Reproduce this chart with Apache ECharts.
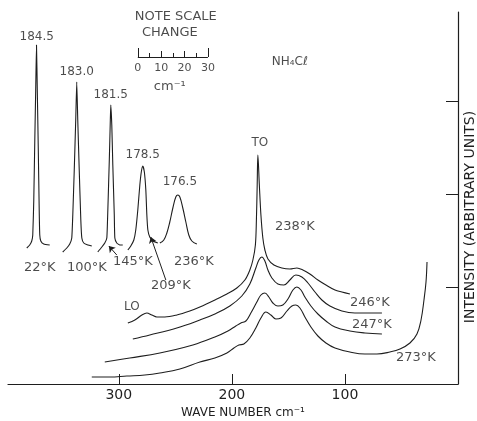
<!DOCTYPE html>
<html>
<head>
<meta charset="utf-8">
<script src="https://cdn.jsdelivr.net/npm/echarts@6/dist/echarts.min.js"></script>
<style>html,body{margin:0;padding:0;background:#fff}#c{width:477px;height:421px}</style>
</head>
<body>
<div id="c"></div>
<script>
// ---- Data: [wave number (cm-1), intensity (arbitrary units)] ----
// Low-temperature inset peaks (drawn on an expanded, offset scale in the original)
const peak22K = [[381.4,136],[378.8,139],[377.0,143],[376.1,149],[375.2,184],[374.3,244],[373.5,294],[372.8,339],[372.1,294],[371.2,234],[370.4,174],[369.9,149],[369.0,143],[366.4,140],[361.1,139]];
const peak100K = [[349.6,132],[346.0,136],[343.4,140],[341.6,146],[340.7,169],[339.4,214],[338.1,264],[337.2,302],[336.3,264],[335.0,214],[333.6,164],[332.7,146],[331.0,141],[327.4,139],[323.9,138]];
const peak145K = [[318.6,132],[315.0,137],[312.4,141],[310.6,146],[309.7,174],[308.4,224],[307.5,264],[307.1,279],[306.2,259],[305.3,219],[304.0,169],[303.5,146],[301.8,141],[299.1,139],[296.5,139]];
const peak209K = [[292.0,134],[289.4,138],[286.7,144],[285.0,154],[283.2,174],[281.4,199],[280.1,212],[278.8,218],[277.4,212],[276.1,194],[275.2,169],[274.3,154],[272.6,147],[269.9,143],[265.5,141]];
const peak236K = [[263.7,141],[260.2,144],[257.5,151],[254.9,162],[252.2,176],[249.6,187],[247.8,189],[246.0,187],[243.4,176],[240.7,162],[238.1,149],[235.4,143],[231.0,140]];
// Full spectra
const spec238K = [[292.0,61],[285.8,64],[279.6,69],[275.2,71],[270.8,69],[266.4,67],[259.3,67],[248.7,69],[237.2,73],[228.3,77],[215.0,84],[204.4,90],[195.6,96],[188.5,104],[184.1,114],[181.4,124],[179.2,139],[178.3,164],[177.6,199],[177.0,229],[175.7,199],[174.3,169],[172.6,146],[170.8,134],[168.1,125],[162.8,119],[155.8,116],[148.7,115],[142.5,116],[137.2,114],[131.0,110],[123.9,104],[116.8,99],[108.8,94],[102.7,92],[95.6,90]];
const spec246K = [[287.6,45],[272.6,49],[248.7,56],[228.3,64],[215.0,70],[201.8,78],[191.2,88],[184.1,100],[178.8,116],[176.1,124],[173.5,127],[170.8,123],[168.1,114],[164.6,106],[159.3,100],[154.0,99],[148.7,104],[143.4,109],[138.1,107],[132.7,101],[126.5,92],[120.4,84],[113.3,78],[102.7,73],[91.2,71],[67.3,71]];
const spec247K = [[312.4,22],[290.3,26],[263.7,31],[234.5,39],[215.0,47],[203.5,53],[196.5,58],[192.0,61],[187.6,63],[183.2,71],[177.9,82],[174.3,89],[170.8,91],[167.3,87],[163.7,81],[159.3,78],[154.9,79],[150.4,85],[146.0,94],[142.5,97],[138.9,94],[135.4,87],[130.1,78],[123.9,70],[116.8,63],[108.8,57],[95.6,53],[82.3,51],[67.3,50]];
const spec273K = [[323.9,7],[308.0,7],[292.9,8],[277.0,9],[263.7,11],[246.0,15],[228.3,22],[215.0,26],[204.4,31],[198.2,36],[193.8,39],[189.4,40],[184.1,46],[178.8,56],[174.3,66],[169.9,72],[165.5,69],[161.1,65],[156.6,66],[151.3,73],[146.9,78],[143.4,79],[139.8,76],[135.4,67],[130.1,57],[123.9,48],[116.8,41],[108.8,36],[95.6,32],[82.3,30],[71.7,30],[60.2,32],[51.3,35],[42.5,41],[36.3,50],[32.7,64],[30.1,84],[28.3,102],[27.4,122]];

// Tick labels
const xTicks = [100, 200, 300];
const yTicks = [97, 190, 283];

// Annotations: [x, y, text]
const peakLabels = [[372.6,347,'184.5'],[337.2,312,'183.0'],[307.1,289,'181.5'],[278.8,229,'178.5'],[246.0,202,'176.5']];
const tempLabels = [[369.9,116,'22°K'],[328.3,116,'100°K'],[287.6,122,'145°K'],[233.6,122,'236°K'],[254.0,98,'209°K'],[144.2,157,'238°K'],[77.9,81,'246°K'],[76.1,59,'247°K'],[37.2,26,'273°K']];
const modeLabels = [[288.5,77,'LO'],[175.2,241,'TO']];
const noteLabels = [[249.6,367,'NOTE SCALE'],[254.9,351,'CHANGE'],[254.9,297,'cm⁻¹']];
const compoundLabel = [[148.7,322,'NH₄Cℓ']];
// Scale bar (0-30 cm-1 on the expanded inset scale)
const scaleTicks = [0, 5, 10, 15, 20, 25, 30];
const scaleTickLabels = [0, 10, 20, 30];
const scaleStart = 283.2, scaleEnd = 221.2, scaleBase = 327;
// Arrows: [[from],[to]]
const arrows = [[[301.8,129],[308.8,138]],[[258.4,104],[271.7,147]]];

const FONT = 'DejaVu Sans';
const INK = '#1e1e1e';
const scaleX = t => scaleStart + (scaleEnd - scaleStart) * t / 30;

function curve(data, smooth) {
  return { type: 'line', data: data, showSymbol: false, smooth: smooth, silent: true,
    lineStyle: { color: INK, width: 1.1 }, z: 3 };
}
function textSeries(arr, size) {
  return { type: 'scatter', symbolSize: 1, itemStyle: { color: 'rgba(0,0,0,0)' }, silent: true, z: 5,
    data: arr.map(a => ({ value: [a[0], a[1]], name: a[2] })),
    label: { show: true, position: 'inside', formatter: p => p.name,
      color: INK, fontFamily: FONT, fontSize: size } };
}

const scaleLines = [[{ coord: [scaleStart, scaleBase] }, { coord: [scaleEnd, scaleBase] }]];
scaleTicks.forEach(t => {
  const h = (t === 0 || t === 30) ? 9 : (t % 10 === 0 ? 6 : 4);
  scaleLines.push([{ coord: [scaleX(t), scaleBase] }, { coord: [scaleX(t), scaleBase + h] }]);
});
const scaleLabelArr = scaleTickLabels.map(t => [scaleX(t), scaleBase - 11, String(t)]);

const option = {
  animation: false,
  backgroundColor: '#fff',
  grid: { left: 8, right: 19, top: 12, bottom: 37, containLabel: false, outerBoundsMode: 'none' },
  xAxis: {
    type: 'value', inverse: true, min: 0, max: 398, interval: 100,
    axisLine: { lineStyle: { color: INK, width: 1.2 } },
    axisTick: { inside: true, length: 10, customValues: xTicks, lineStyle: { color: INK } },
    axisLabel: { customValues: xTicks, margin: 4, color: INK, fontFamily: FONT, fontSize: 14,
      formatter: v => (v === 0 ? '' : String(v)) },
    splitLine: { show: false },
    name: 'WAVE NUMBER cm⁻¹', nameLocation: 'middle', nameGap: 20,
    nameTextStyle: { color: INK, fontFamily: FONT, fontSize: 12, padding: [0, 0, 0, 20] }
  },
  yAxis: {
    type: 'value', position: 'right', min: 0, max: 372,
    axisLine: { show: true, lineStyle: { color: INK, width: 1.2 } },
    axisTick: { show: true, inside: true, length: 12, customValues: yTicks, lineStyle: { color: INK } },
    axisLabel: { show: false },
    splitLine: { show: false },
    name: 'INTENSITY (ARBITRARY UNITS)', nameLocation: 'middle', nameGap: 5, nameRotate: 90,
    nameTextStyle: { color: INK, fontFamily: FONT, fontSize: 14, padding: [0, 38, 0, 0] }
  },
  series: [
    curve(peak22K, 0.15), curve(peak100K, 0.15), curve(peak145K, 0.15), curve(peak209K, 0.2), curve(peak236K, 0.4),
    curve(spec238K, 0.35), curve(spec246K, 0.4), curve(spec247K, 0.4), curve(spec273K, 0.4),
    textSeries(peakLabels, 12),
    textSeries(tempLabels, 13),
    textSeries(modeLabels, 12),
    textSeries(noteLabels, 13),
    textSeries(compoundLabel, 12),
    textSeries(scaleLabelArr, 11),
    { type: 'line', data: [], silent: true,
      markLine: { silent: true, symbol: ['none', 'none'], label: { show: false },
        lineStyle: { color: INK, width: 1, type: 'solid' }, data: scaleLines } },
    { type: 'line', data: [], silent: true,
      markLine: { silent: true, symbol: ['none', 'arrow'], symbolSize: 6, label: { show: false },
        lineStyle: { color: INK, width: 1, type: 'solid' },
        data: arrows.map(a => [{ coord: a[0] }, { coord: a[1] }]) } }
  ]
};
echarts.init(document.getElementById('c'), null, { renderer: 'canvas' }).setOption(option);
</script>
</body>
</html>
